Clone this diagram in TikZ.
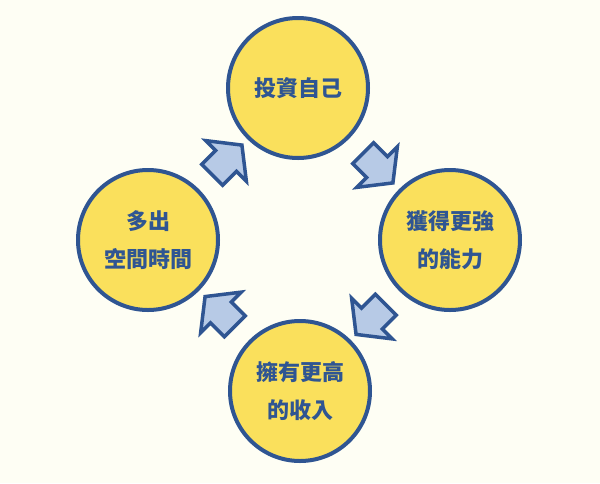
\documentclass[tikz,border=0pt]{standalone}
\usepackage{fontspec}
\newfontfamily\cjkfont{Noto Sans CJK TC}
\usetikzlibrary{shapes.arrows,calc}

\definecolor{bgcream}{HTML}{FEFEF4}
\definecolor{sunyellow}{HTML}{FAE05C}
\definecolor{ringblue}{HTML}{2F5592}
\definecolor{paleblue}{HTML}{B7CAE6}

\tikzset{
  goal/.style={circle, draw=ringblue, line width=4pt, fill=sunyellow,
    minimum size=140pt, inner sep=0pt, align=center, text=ringblue,
    font=\cjkfont\bfseries\fontsize{22}{38}\selectfont},
  flow/.style={single arrow, draw=ringblue, line width=3.5pt, fill=paleblue,
    minimum height=42pt, minimum width=54pt, inner sep=0pt, inner ysep=13pt,
    single arrow head extend=14pt, single arrow tip angle=104}
}

\begin{document}
\begin{tikzpicture}[x=1pt, y=-1pt]
  \fill[bgcream] (0,0) rectangle (600,483);
  \useasboundingbox (0,0) rectangle (600,483);
  % the four stages
  \node[goal] (invest) at (298,88) {投資自己};
  \node[goal] (skill) at (450,240) {獲得更強\\的能力};
  \node[goal] (income) at (300,391) {擁有更高\\的收入};
  \node[goal] (time) at (148,240) {多出\\空間時間};
  % block arrows between them
  \node[flow, rotate=-45] (a1) at ($(invest)!0.5!(skill)$) {};
  \node[flow, rotate=-135] (a2) at ($(skill)!0.5!(income)$) {};
  \node[flow, rotate=135] (a3) at ($(income)!0.5!(time)$) {};
  \node[flow, rotate=45] (a4) at ($(time)!0.5!(invest)$) {};
\end{tikzpicture}
\end{document}
